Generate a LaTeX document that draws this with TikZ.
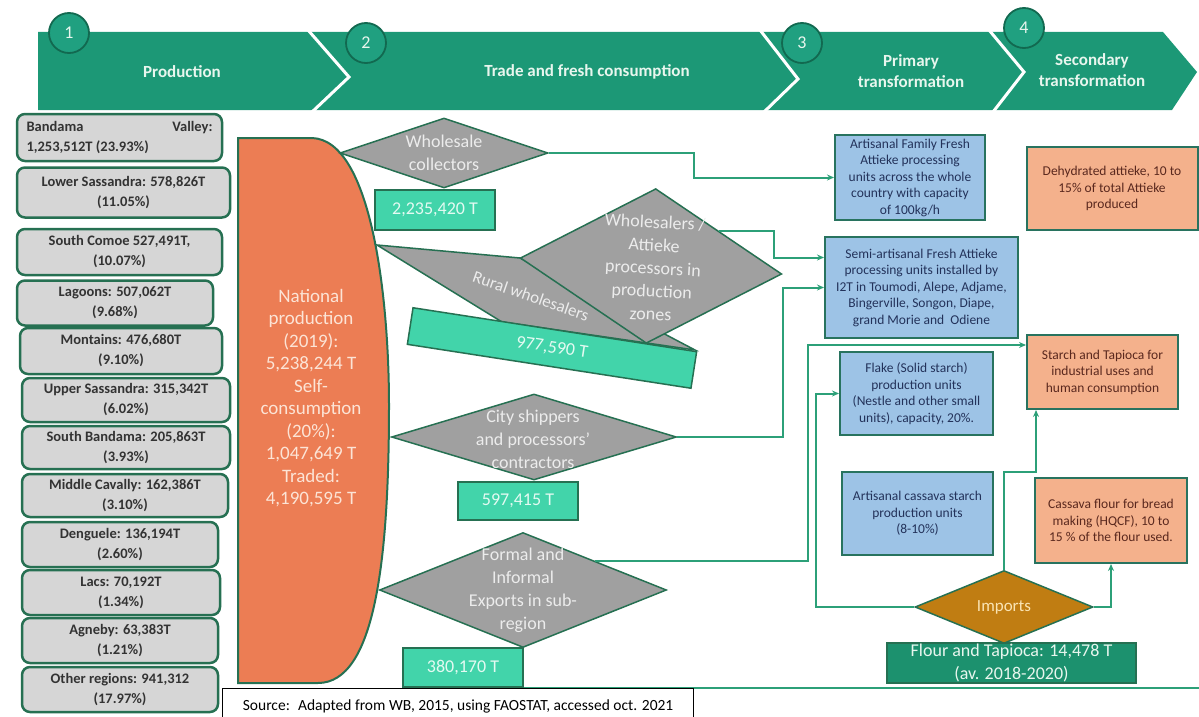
\documentclass[tikz,border=0pt]{standalone}
\usepackage{fontspec}
\setmainfont{Carlito}
\usetikzlibrary{arrows.meta,shapes.geometric,calc}

\definecolor{bandgreen}{RGB}{28,152,118}
\definecolor{circfill}{RGB}{32,160,128}
\definecolor{circline}{RGB}{18,105,80}
\definecolor{hdrtext}{RGB}{232,246,238}
\definecolor{edgegreen}{RGB}{38,112,82}
\definecolor{regiongray}{RGB}{214,214,214}
\definecolor{natorange}{RGB}{236,125,84}
\definecolor{nattext}{RGB}{252,228,214}
\definecolor{diamgray}{RGB}{160,160,160}
\definecolor{diamtext}{RGB}{236,236,236}
\definecolor{aqua}{RGB}{66,212,170}
\definecolor{aquatext}{RGB}{228,250,242}
\definecolor{flowgreen}{RGB}{44,160,120}
\definecolor{unitblue}{RGB}{157,195,230}
\definecolor{unitline}{RGB}{40,115,95}
\definecolor{unittext}{RGB}{35,50,90}
\definecolor{prodsalmon}{RGB}{244,177,140}
\definecolor{prodtext}{RGB}{90,40,30}
\definecolor{importgold}{RGB}{192,125,18}
\definecolor{importtext}{RGB}{250,228,180}
\definecolor{tapiocagreen}{RGB}{28,145,110}

\tikzset{every picture/.style={line width=0.75pt}}
\tikzset{
  num/.style={circle, draw=circline, fill=circfill, line width=1.8, minimum size=40, inner sep=0, text=hdrtext, font=\fontsize{18}{20}\selectfont},
  stage/.style={text=hdrtext, font=\bfseries\fontsize{17}{21}\selectfont, align=center},
  region/.style={draw=edgegreen, fill=regiongray, rounded corners=8, line width=2.5, text=black!80, font=\bfseries\fontsize{14.5}{20}\selectfont, align=center, inner sep=0},
  actor/.style={diamond, draw=edgegreen, fill=diamgray, line width=1.5, inner sep=0},
  actortext/.style={text=diamtext, font=\fontsize{18}{23}\selectfont, align=center},
  qty/.style={draw=edgegreen, fill=aqua, line width=1.5, text=aquatext, font=\fontsize{18}{20}\selectfont, inner sep=0},
  unit/.style={draw=unitline, fill=unitblue, line width=2, text=unittext, font=\fontsize{13.5}{16.5}\selectfont, align=center, inner sep=0},
  product/.style={unit, fill=prodsalmon, text=prodtext},
  flow/.style={draw=flowgreen, line width=2, -{Stealth[length=7,width=6]}}
}

\begin{document}
\begin{tikzpicture}[x=1pt,y=1pt,yscale=-1,xscale=1]
	\useasboundingbox (0,0) rectangle (1199,717);

	%Stage band
	\fill[bandgreen] (38,32) -- (1163,32) -- (1197,72) -- (1172,110) -- (38,110) -- cycle;
	\draw[white, line width=3] (308,30) -- (349,77) -- (312,112);
	\draw[white, line width=3] (760,30) -- (798,79) -- (764,112);
	\draw[white, line width=3] (989,30) -- (1024,72) -- (993,112);

	% Stage numbers
	\node[num] (n1) at (69,33) {1};
	\node[num] (n2) at (366,43) {2};
	\node[num] (n3) at (802,43) {3};
	\node[num] (n4) at (1024,28) {4};

	% Stage titles
	\node[stage] (s1) at (182,72) {Production};
	\node[stage] (s2) at (587,72) {Trade and fresh consumption};
	\node[stage] (s3) at (911,71) {Primary\\transformation};
	\node[stage] (s4) at (1092,70) {Secondary\\transformation};

	% Regions
	\node[region, minimum width=205, minimum height=47] (bv) at (119.5,137.5) {\makebox[186pt]{Bandama\hfill Valley:}\\\makebox[186pt][l]{1,253,512T (23.93\%)}};
	\node[region, minimum width=213, minimum height=50] (ls) at (123.5,192.5) {Lower Sassandra: 578,826T\\(11.05\%)};
	\node[region, minimum width=205, minimum height=46] (sc) at (119.5,252) {South Comoe 527,491T,\\(10.07\%)};
	\node[region, minimum width=196, minimum height=45] (lg) at (115,303) {Lagoons: 507,062T\\(9.68\%)};
	\node[region, minimum width=202, minimum height=46] (mt) at (121,351) {Montains: 476,680T\\(9.10\%)};
	\node[region, minimum width=208, minimum height=44] (us) at (126,400) {Upper Sassandra: 315,342T\\(6.02\%)};
	\node[region, minimum width=208, minimum height=43] (sb) at (126,447.5) {South Bandama: 205,863T\\(3.93\%)};
	\node[region, minimum width=206, minimum height=43] (mc) at (125,495.5) {Middle Cavally: 162,386T\\(3.10\%)};
	\node[region, minimum width=196, minimum height=45] (dg) at (120,544.5) {Denguele: 136,194T\\(2.60\%)};
	\node[region, minimum width=198, minimum height=45] (lc) at (121,592.5) {Lacs: 70,192T\\(1.34\%)};
	\node[region, minimum width=196, minimum height=45] (ag) at (120,640.5) {Agneby: 63,383T\\(1.21\%)};
	\node[region, minimum width=196, minimum height=45] (ot) at (120,689.5) {Other regions: 941,312\\(17.97\%)};

	%National production
	\filldraw[draw=edgegreen, line width=2, fill=natorange] (238,138) -- (312,138) .. controls (372,140) and (389,300) .. (389,405) .. controls (389,560) and (375,683) .. (318,683) -- (238,683) -- cycle;
	\node[text=nattext, font=\fontsize{19}{22.5}\selectfont, align=center] (nat) at (311,398) {National\\production\\(2019):\\5,238,244 T\\Self-\\consumption\\(20\%):\\1,047,649 T\\Traded:\\4,190,595 T};

	% Trade actors
	\node[actor, minimum width=208, minimum height=70] (wc) at (444,153) {};
	\node[actortext] (wct) at (wc) {Wholesale\\collectors};
	\node[qty, minimum width=120, minimum height=40] (q1) at (435,210) {2,235,420 T};

	\filldraw[draw=edgegreen, fill=diamgray, line width=1.5] (377,245) -- (520,258) -- (695,350) -- (502,322) -- cycle;
	\node[actortext, rotate=-19, font=\fontsize{17}{20}\selectfont, inner sep=0] (rwt) at (531,296) {Rural wholesalers};
	\node[actor, minimum width=262, minimum height=155, rotate=-3.5] (wa) at (651,266) {};
	\node[actortext, rotate=-3, inner sep=0] (wat) at (653,268) {Wholesalers /\\Attieke\\processors in\\production\\zones};
	\node[qty, rotate=-8.8, minimum width=287, minimum height=37] (q2) at (552,348) {977,590 T};

	\node[actor, minimum width=285, minimum height=86] (cs) at (534,437) {};
	\node[actortext] (cst) at (533,439) {City shippers\\and processors'\\contractors};
	\node[qty, minimum width=120, minimum height=38] (q3) at (518,501) {597,415 T};

	\node[actor, minimum width=287, minimum height=115] (fi) at (523,590) {};
	\node[actortext] (fit) at (523,590) {Formal and\\Informal\\Exports in sub-\\region};
	\node[qty, minimum width=120, minimum height=39] (q4) at (463,667.5) {380,170 T};

	% Primary transformation units
	\node[unit, minimum width=150, minimum height=85] (af) at (910,177.5) {Artisanal Family Fresh\\Attieke processing\\units across the whole\\country with capacity\\of 100kg/h};
	\node[unit, minimum width=193, minimum height=101] (sa) at (921.5,287.5) {Semi-artisanal Fresh Attieke\\processing units installed by\\I2T in Toumodi, Alepe, Adjame,\\Bingerville, Songon, Diape,\\grand Morie and~ Odiene};
	\node[unit, minimum width=153, minimum height=83] (fl) at (916.5,393.5) {Flake (Solid starch)\\production units\\(Nestle and other small\\units), capacity, 20\%.};
	\node[unit, minimum width=151, minimum height=83] (ac) at (917.5,513.5) {Artisanal cassava starch\\production units\\(8-10\%)};

	% Secondary transformation products
	\node[product, minimum width=171, minimum height=83] (dh) at (1112,188.5) {Dehydrated attieke, 10 to\\15\% of total Attieke\\produced};
	\node[product, minimum width=151, minimum height=74] (st) at (1102.5,372) {Starch and Tapioca for\\industrial uses and\\human consumption};
	\node[product, minimum width=152, minimum height=85] (cf) at (1111,520.5) {Cassava flour for bread\\making (HQCF), 10 to\\15 \% of the flour used.};

	% Imports
	\node[diamond, draw=edgegreen, fill=importgold, line width=1.5, minimum width=178, minimum height=73, inner sep=0] (im) at (1004,607) {};
	\node[text=importtext, font=\fontsize{17}{20}\selectfont] (imt) at (im) {Imports};
	\node[draw=edgegreen, fill=tapiocagreen, line width=1.5, minimum width=249, minimum height=40, inner sep=0, text=hdrtext, align=center, font=\fontsize{18}{23}\selectfont] (ft) at (1011.5,663) {Flour and Tapioca: 14,478 T\\(av. 2018-2020)};

	% Flows
	\draw[flow] (wc.east) -- ++(145,0) |- (af.west);
	\draw[flow] (wa.north east) -- ++(55,0) |- ($(sa.west)+(0,-30)$);
	\draw[flow] (cs.east) -- ++(106,0) |- (sa.west);
	\draw[flow] (fi.north east) -- ++(213,0) |- ($(st.north west)+(0,11)$);
	\draw[flow] (im.west) -- ++(-98,0) |- (fl.west);
	\draw[flow] (im.north) -- ++(0,-98) -| ($(st.south west)+(10,0)$);
	\draw[flow] (im.east) -| (cf.south);
	\draw[flowgreen, line width=2] (q4.south east) -- ++(676,0);

	% Source
	\node[draw=black, line width=1.2, fill=white, minimum width=471, minimum height=36, anchor=north west, inner sep=0, font=\fontsize{15.5}{18}\selectfont] (src) at (222,688) {Source:~ Adapted from WB, 2015, using FAOSTAT, accessed oct. 2021};

\end{tikzpicture}
\end{document}
